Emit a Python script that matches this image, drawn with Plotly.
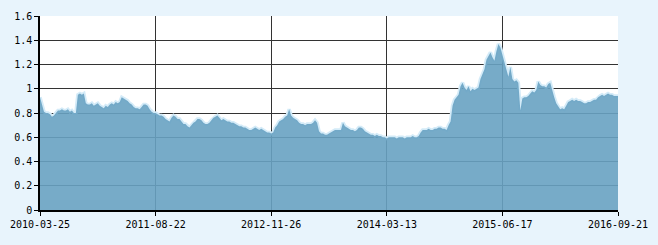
import plotly.graph_objects as go

values = [
    0.93, 0.86, 0.81, 0.80, 0.80, 0.79, 0.77, 0.78, 0.80, 0.82,
    0.82, 0.83, 0.82, 0.82, 0.83, 0.81, 0.82, 0.80, 0.80, 0.95,
    0.96, 0.95, 0.96, 0.88, 0.87, 0.87, 0.88, 0.86, 0.87, 0.88,
    0.86, 0.85, 0.84, 0.86, 0.85, 0.87, 0.88, 0.87, 0.89, 0.88,
    0.89, 0.93, 0.92, 0.91, 0.90, 0.88, 0.87, 0.85, 0.84, 0.84,
    0.83, 0.85, 0.87, 0.87, 0.86, 0.83, 0.81, 0.80, 0.80, 0.79,
    0.78, 0.78, 0.77, 0.75, 0.74, 0.73, 0.76, 0.78, 0.77, 0.75,
    0.75, 0.73, 0.71, 0.71, 0.69, 0.68, 0.70, 0.72, 0.73, 0.75,
    0.75, 0.74, 0.72, 0.71, 0.71, 0.72, 0.74, 0.76, 0.77, 0.78,
    0.76, 0.74, 0.75, 0.74, 0.73, 0.73, 0.72, 0.72, 0.71, 0.70,
    0.69, 0.69, 0.68, 0.68, 0.67, 0.66, 0.66, 0.67, 0.68, 0.67,
    0.66, 0.67, 0.66, 0.65, 0.64, 0.64, 0.63, 0.64, 0.68, 0.70,
    0.73, 0.74, 0.75, 0.77, 0.78, 0.83, 0.78, 0.76, 0.75, 0.74,
    0.72, 0.71, 0.71, 0.70, 0.71, 0.71, 0.71, 0.72, 0.74, 0.72,
    0.65, 0.63, 0.63, 0.62, 0.62, 0.63, 0.64, 0.65, 0.66, 0.66,
    0.66, 0.66, 0.72, 0.69, 0.68, 0.67, 0.66, 0.66, 0.65, 0.66,
    0.68, 0.68, 0.67, 0.65, 0.64, 0.63, 0.62, 0.62, 0.61, 0.62,
    0.61, 0.61, 0.60, 0.60, 0.59, 0.60, 0.60, 0.60, 0.60, 0.59,
    0.60, 0.60, 0.60, 0.59, 0.60, 0.60, 0.60, 0.61, 0.60, 0.60,
    0.61, 0.64, 0.66, 0.66, 0.66, 0.67, 0.66, 0.66, 0.67, 0.67,
    0.68, 0.68, 0.67, 0.67, 0.66, 0.70, 0.73, 0.86, 0.91, 0.93,
    0.95, 1.02, 1.05, 1.01, 0.99, 1.02, 0.98, 1.00, 0.99, 1.00,
    1.01, 1.08, 1.12, 1.16, 1.24, 1.27, 1.30, 1.26, 1.23, 1.31,
    1.37, 1.34, 1.28, 1.20, 1.15, 1.10, 1.18, 1.08, 1.06, 1.07,
    1.05, 0.82, 0.92, 0.93, 0.93, 0.94, 0.96, 0.98, 0.97, 0.99,
    1.06, 1.03, 1.02, 1.02, 1.01, 1.04, 1.05, 0.98, 0.93, 0.88,
    0.85, 0.83, 0.84, 0.83, 0.86, 0.89, 0.90, 0.91, 0.90, 0.91,
    0.90, 0.90, 0.89, 0.88, 0.88, 0.89, 0.89, 0.90, 0.91, 0.91,
    0.93, 0.94, 0.95, 0.94, 0.95, 0.96, 0.95, 0.95, 0.94, 0.94,
    0.94,
]
tick_labels = ["2010-03-25", "2011-08-22", "2012-11-26",
               "2014-03-13", "2015-06-17", "2016-09-21"]
y_ticks = [0, 0.2, 0.4, 0.6, 0.8, 1, 1.2, 1.4, 1.6]

x = list(range(len(values)))
n = len(values) - 1
tick_pos = [n * i / (len(tick_labels) - 1) for i in range(len(tick_labels))]

fig = go.Figure()
fig.add_trace(go.Scatter(x=x, y=values, mode="lines",
                         line=dict(color="#d4ebf8", width=3.5),
                         hoverinfo="skip", showlegend=False))
fig.add_trace(go.Scatter(x=x, y=values, mode="lines", fill="tozeroy",
                         fillcolor="rgba(104,162,194,0.9)",
                         line=dict(width=0, color="rgba(0,0,0,0)"),
                         hoverinfo="skip", showlegend=False))

font = dict(family="DejaVu Sans Mono", size=10, color="#000000")
fig.update_layout(
    width=658, height=245,
    margin=dict(l=38, r=40, t=10, b=35),
    paper_bgcolor="#e8f4fc", plot_bgcolor="#ffffff",
    font=font,
    xaxis=dict(range=[0, n], tickmode="array", tickvals=tick_pos,
               ticktext=tick_labels, showgrid=True, gridcolor="#333333",
               gridwidth=1, zeroline=False, showline=True,
               linecolor="#000000", linewidth=1.5, ticks="outside",
               ticklen=4, tickcolor="#000000", tickfont=font),
    yaxis=dict(range=[0, 1.6], tickmode="array", tickvals=y_ticks,
               ticktext=[("%g" % v) for v in y_ticks],
               showgrid=True, gridcolor="#333333", gridwidth=1,
               zeroline=False, showline=True, linecolor="#000000",
               linewidth=1.5, ticks="outside", ticklen=4,
               tickcolor="#000000", tickfont=font),
)
fig.write_html("out.html")
